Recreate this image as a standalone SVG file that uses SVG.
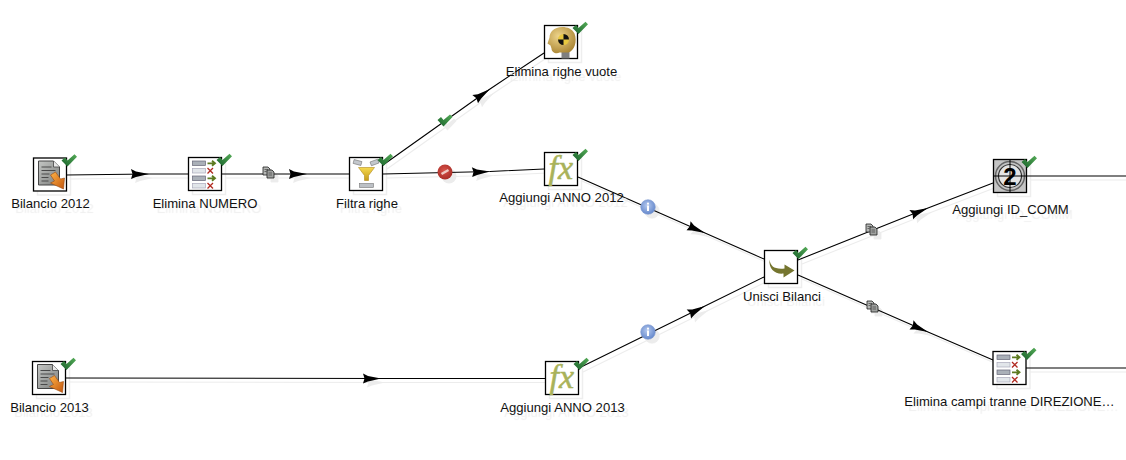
<svg xmlns="http://www.w3.org/2000/svg" width="1126" height="460" viewBox="0 0 1126 460">
<style>
text{font-family:"Liberation Sans",Arial,sans-serif}
.lbl{font-size:13.1px;fill:#111;text-anchor:middle;text-shadow:4px 5px 1px #eeeeee}
.c{fill:none;stroke:#000;stroke-width:1.1;marker-mid:url(#ah)}
.p{fill:none;stroke:#000;stroke-width:1.1}
#connectors{filter:drop-shadow(4px 4px 0.5px #ececec)}
.box{fill:#fff;stroke:#000;stroke-width:1.3}
.fx{font-family:"Liberation Serif",serif;font-style:italic;font-size:34px;fill:#a9b25a;stroke:#a9b25a;stroke-width:.5}
</style>
<defs>
<marker id="ah" markerUnits="userSpaceOnUse" markerWidth="20" markerHeight="14" refX="18" refY="7" orient="auto" overflow="visible"><path d="M0,2 L5,4.500 L18,7 L5,10 L0,12 L1.500,7Z" fill="#000"/></marker>
<linearGradient id="gc" x1="0" y1="1" x2="1" y2="0"><stop offset="0" stop-color="#17602a"/><stop offset="1" stop-color="#56ad58"/></linearGradient>
<linearGradient id="gd" x1="0" y1="0" x2="1" y2="1"><stop offset="0" stop-color="#c4c6c4"/><stop offset="1" stop-color="#7d7f7d"/></linearGradient>
<linearGradient id="go" x1="0" y1="0" x2="1" y2="1"><stop offset="0" stop-color="#ffb347"/><stop offset="1" stop-color="#c2560e"/></linearGradient>
<linearGradient id="gf" x1="0" y1="0" x2="0" y2="1"><stop offset="0" stop-color="#f6d94f"/><stop offset="1" stop-color="#c49a1a"/></linearGradient>
<radialGradient id="gh" cx=".4" cy=".35" r=".75"><stop offset="0" stop-color="#eed58c"/><stop offset="1" stop-color="#a57f2c"/></radialGradient>
<radialGradient id="gi" cx=".45" cy=".4" r=".65"><stop offset="0" stop-color="#b5c9ee"/><stop offset="1" stop-color="#5d82c9"/></radialGradient>
<radialGradient id="gs" cx=".45" cy=".4" r=".65"><stop offset="0" stop-color="#d9534a"/><stop offset="1" stop-color="#a52a24"/></radialGradient>
<g id="check"><path d="M28,2.500 L31.500,-0.500 L34,2.500 L41,-3.800 L43.500,-1.200 L34,8.500Z" fill="url(#gc)"/></g>
<g id="docin">
<path d="M5,3 H20 L26,9 V27 H5Z" fill="url(#gd)" stroke="#444" stroke-width="1"/>
<path d="M20,3 V9 H26" fill="#e8e8e8" stroke="#444" stroke-width=".8"/>
<path d="M8,9 H18 M8,12.500 H22 M8,16 H16 M8,19.500 H15 M8,23 H15" stroke="#4a4a4a" stroke-width="1"/>
<path d="M17,17 L22,14 L27,21 L31,20 L30,31 L17,25 L21,23Z" fill="url(#go)" stroke="#9a4a10" stroke-width=".6"/>
</g>
<g id="sel">
<rect x="4" y="3.500" width="13" height="4.500" fill="#aab0b8" stroke="#667" stroke-width=".7"/><path d="M19,5.800 H26 M23.500,3.300 L26.500,5.800 L23.500,8.300" stroke="#5d7a20" stroke-width="1.800" fill="none"/>
<rect x="4" y="11" width="13" height="4.500" fill="#e2e6ea" stroke="#aab" stroke-width=".7"/><path d="M19,10.500 L24.500,16 M24.500,10.500 L19,16" stroke="#b02a20" stroke-width="1.300"/>
<rect x="4" y="18.500" width="13" height="4.500" fill="#aab0b8" stroke="#667" stroke-width=".7"/><path d="M19,20.800 H26 M23.500,18.300 L26.500,20.800 L23.500,23.300" stroke="#5d7a20" stroke-width="1.800" fill="none"/>
<rect x="4" y="26" width="13" height="4.500" fill="#e2e6ea" stroke="#aab" stroke-width=".7"/><path d="M19,25.500 L24.500,31 M24.500,25.500 L19,31" stroke="#b02a20" stroke-width="1.300"/>
</g>
<g id="fxi"><text class="fx" x="4" y="26">fx</text></g>
<g id="mini">
<path d="M0,0 H5 L7,2 V8 H0Z" fill="#b5b7b5" stroke="#222" stroke-width=".8"/>
<path d="M4,3 H9 L11,5 V11 H4Z" fill="#a0a2a0" stroke="#222" stroke-width=".8"/>
<path d="M1.500,2.500 H5 M1.500,4.500 H3.500 M5.500,6 H9 M5.500,8 H9" stroke="#333" stroke-width=".6"/>
</g>
<g id="info"><circle r="7.300" fill="url(#gi)" stroke="#7f9bd0" stroke-width=".6"/><circle cy="-3.300" r="1.100" fill="#fff"/><rect x="-1" y="-1.500" width="2" height="5.500" fill="#fff"/></g>
</defs>
<rect width="1126" height="460" fill="#fff"/>
<path id="nodeShadows" fill="none" stroke="#eeeeee" stroke-width="1.500" d="M37.500,162h33v33h-33z M192.500,161.500h33v33h-33z M353.500,161.500h33v33h-33z M548.500,29.500h33v33h-33z M548.500,156.500h33v33h-33z M768.500,254.500h33v33h-33z M997.500,163.500h33v33h-33z M997,355.500h33v33h-33z M549.500,365.500h33v33h-33z M36.500,365.500h33v33h-33z"/>
<g id="connectors">
<path class="c" d="M66,175 L149,174 L188,174"/>
<path class="c" d="M222,174 L307,174 L349,174"/>
<path class="c" d="M383,165 L490,89 L544,53"/>
<path class="c" d="M383,174 L490,171.500 L544,169"/>
<path class="c" d="M578,177 L705,233 L764,259"/>
<path class="c" d="M66,378 L381,378.500 L545,378.500"/>
<path class="c" d="M579,368 L705,306 L764,277"/>
<path class="c" d="M798,260 L928,208 L993,183"/>
<path class="c" d="M798,275 L928,332 L993,360"/>
<path class="p" d="M1027,176 H1126"/>
<path class="p" d="M1026,368 H1126"/>
<use href="#mini" x="263" y="167"/>
<use href="#mini" x="866" y="224"/>
<use href="#mini" x="867" y="301"/>
<use href="#info" x="648" y="207"/>
<use href="#info" x="648" y="332"/>
<g transform="translate(445,172)"><circle r="7.500" fill="url(#gs)"/><path d="M-3.500,2 L3.500,-2" stroke="#eec9c2" stroke-width="2.400"/></g>
<g transform="translate(445,120)"><path d="M-7.500,0 L-4,-3 L-1.500,0 L5,-5.500 L7.500,-3 L-1.500,6.500Z" fill="url(#gc)"/></g>
</g>
<g id="bilancio2012" transform="translate(33.500,158)">
<rect class="box" width="33" height="33"/><use href="#docin"/><use href="#check"/>
<text class="lbl" x="17" y="50">Bilancio 2012</text>
</g>
<g id="eliminaNumero" transform="translate(188.500,157.500)">
<rect class="box" width="33" height="33"/><use href="#sel"/><use href="#check"/>
<text class="lbl" x="16.500" y="50">Elimina NUMERO</text>
</g>
<g id="filtraRighe" transform="translate(349.500,157.500)">
<rect class="box" width="33" height="33"/>
<rect x="4" y="3" width="8" height="4" fill="#c3c7cc" stroke="#777" stroke-width=".6" transform="rotate(15 8 5)"/>
<rect x="21" y="3" width="8" height="4" fill="#c3c7cc" stroke="#777" stroke-width=".6" transform="rotate(-20 25 5)"/>
<path d="M9,10 H25 L19,18 V23 H15 V18Z" fill="url(#gf)" stroke="#b08a20" stroke-width=".6"/>
<rect x="10" y="26" width="14" height="4" fill="#bcc0c5" stroke="#777" stroke-width=".6"/>
<use href="#check"/>
<text class="lbl" x="17.500" y="50">Filtra righe</text>
</g>
<g id="eliminaRigheVuote" transform="translate(544.500,25.500)">
<rect class="box" width="33" height="33"/>
<path d="M17,33 V25 H25 V33Z" fill="#7f7f7f"/>
<path d="M8,5 C13,0 26,0 30,8 C33,16 30,25 24,27 L15,27 C12,29 7,27 7,23 L6,20 L3,18 L5,12 C5,9 6,7 8,5Z" fill="url(#gh)"/>
<circle cx="19" cy="14" r="5.500" fill="#e8c840"/><path d="M19,8.500 A5.500,5.500 0 0 1 24.500,14 H19 V19.500 A5.500,5.500 0 0 1 13.500,14 H19Z" fill="#111"/>
<use href="#check"/>
<text class="lbl" x="17" y="50.500">Elimina righe vuote</text>
</g>
<g id="aggiungiAnno2012" transform="translate(544.500,152.500)">
<rect class="box" width="33" height="33"/><use href="#fxi"/><use href="#check"/>
<text class="lbl" x="17" y="49.500">Aggiungi ANNO 2012</text>
</g>
<g id="unisciBilanci" transform="translate(764.500,250.500)">
<rect class="box" width="33" height="33"/>
<path d="M5,9 C6,16 10,19 20,18 V14 L30,20 L19,27 V23 C11,24 4,19 5,9Z" fill="#75752f"/>
<use href="#check"/>
<text class="lbl" x="17.500" y="50.500">Unisci Bilanci</text>
</g>
<g id="aggiungiIdComm" transform="translate(993.500,159.500)">
<rect class="box" width="33" height="33" style="fill:#c4c4c4"/>
<circle cx="16.500" cy="16.500" r="14.500" fill="none" stroke="#666" stroke-width="1.500"/>
<circle cx="16.500" cy="16.500" r="11.500" fill="#e4e4e4" stroke="#333" stroke-width="1.200"/>
<text x="16.500" y="25" text-anchor="middle" style="font-size:24px;font-weight:bold;fill:#000">2</text>
<path d="M0,16.500 H33 M16.500,0 V33" stroke="#000" stroke-width="1"/>
<use href="#check"/>
<text class="lbl" x="17" y="54">Aggiungi ID_COMM</text>
</g>
<g id="eliminaCampi" transform="translate(993,351.500)">
<rect class="box" width="33" height="33"/><use href="#sel"/><use href="#check"/>
<text class="lbl" x="16.500" y="54.500">Elimina campi tranne DIREZIONE…</text>
</g>
<g id="aggiungiAnno2013" transform="translate(545.500,361.500)">
<rect class="box" width="33" height="33"/><use href="#fxi"/><use href="#check"/>
<text class="lbl" x="17" y="50.500">Aggiungi ANNO 2013</text>
</g>
<g id="bilancio2013" transform="translate(32.500,361.500)">
<rect class="box" width="33" height="33"/><use href="#docin"/><use href="#check"/>
<text class="lbl" x="17" y="50">Bilancio 2013</text>
</g>
</svg>
